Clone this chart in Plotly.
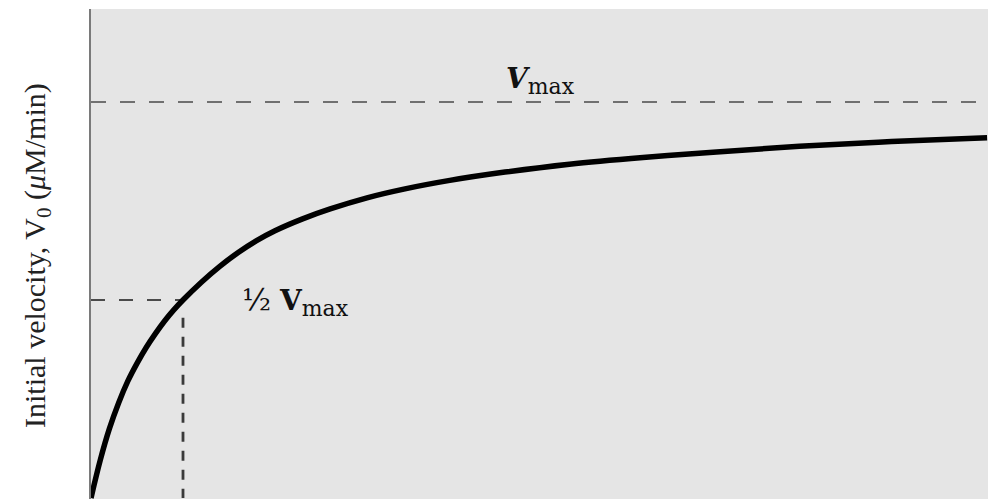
import plotly.graph_objects as go

# Substrate concentration [S] (arbitrary units) and initial velocity V0 (µM/min)
substrate_conc = [0, 1, 2, 3, 4, 5, 6, 7, 8, 9, 10, 12, 14, 16, 18, 20, 23, 26,
                  30, 34, 39, 45, 52, 60, 68, 77, 87, 97.4]
velocity = [0.0, 9.5, 17.5, 24.0, 29.5, 34.0, 38.0, 41.5, 44.7, 47.5, 50.0,
            54.5, 58.5, 62.0, 65.0, 67.5, 70.5, 73.0, 75.8, 78.0, 80.2, 82.3,
            84.3, 86.0, 87.4, 88.8, 90.0, 91.0]

vmax = 100.0
km = 10.0
x_max = 97.5

serif = "Liberation Serif"
math_font = "DejaVu Serif"

fig = go.Figure()

# Vmax asymptote
fig.add_trace(go.Scatter(
    x=[0, x_max], y=[vmax, vmax], mode="lines",
    line=dict(color="#4a4a4a", width=1.6, dash="15px,14px"),
    hoverinfo="skip", showlegend=False))

# Half-Vmax guide up to the curve
fig.add_trace(go.Scatter(
    x=[0, km], y=[vmax / 2, vmax / 2], mode="lines",
    line=dict(color="#4a4a4a", width=1.8, dash="14px,14px"),
    hoverinfo="skip", showlegend=False))

# Km drop line
fig.add_trace(go.Scatter(
    x=[km, km], y=[vmax / 2 - 4.5, 0], mode="lines",
    line=dict(color="#3a3a3a", width=2.8, dash="10px,9px"),
    hoverinfo="skip", showlegend=False))

# Michaelis-Menten saturation curve
fig.add_trace(go.Scatter(
    x=substrate_conc, y=velocity, mode="lines",
    line=dict(color="black", width=5.5, shape="spline", smoothing=1.0),
    hoverinfo="skip", showlegend=False))

fig.add_annotation(
    x=(504 - 91) / 9.2, y=(498 - 80) / 3.96, xref="x", yref="y",
    text="<b><i>V</i></b><sub><span style='font-size:22px'>max</span></sub>",
    showarrow=False,
    font=dict(family=math_font, size=28, color="#111"),
    xanchor="left", yanchor="middle")

fig.add_annotation(
    x=(240 - 91) / 9.2, y=(498 - 301) / 3.96, xref="x", yref="y",
    text="<span style='font-size:30px'>½</span> <b>V</b>"
         "<sub><span style='font-size:22px'>max</span></sub>",
    showarrow=False,
    font=dict(family=math_font, size=28, color="#111"),
    xanchor="left", yanchor="middle")

fig.add_annotation(
    x=(37 - 91) / 897, y=(498 - 256) / 3.96, xref="paper", yref="y",
    text="Initial velocity, V<sub>0</sub> (<i>μ</i>M/min)", showarrow=False,
    textangle=-90,
    font=dict(family=serif, size=30, color="#222"),
    xanchor="center", yanchor="middle")

fig.update_layout(
    width=988, height=499,
    margin=dict(l=91, r=0, t=9, b=0),
    paper_bgcolor="white",
    plot_bgcolor="#e5e5e5",
    xaxis=dict(range=[0, x_max], showgrid=False, zeroline=False,
               showticklabels=False, ticks="", showline=False),
    yaxis=dict(range=[(498 - 499) / 3.96, (498 - 9) / 3.96], showgrid=False,
               zeroline=False, showticklabels=False, ticks="",
               showline=True, linecolor="#7a7a7a", linewidth=2),
)

fig.write_html("out.html")
